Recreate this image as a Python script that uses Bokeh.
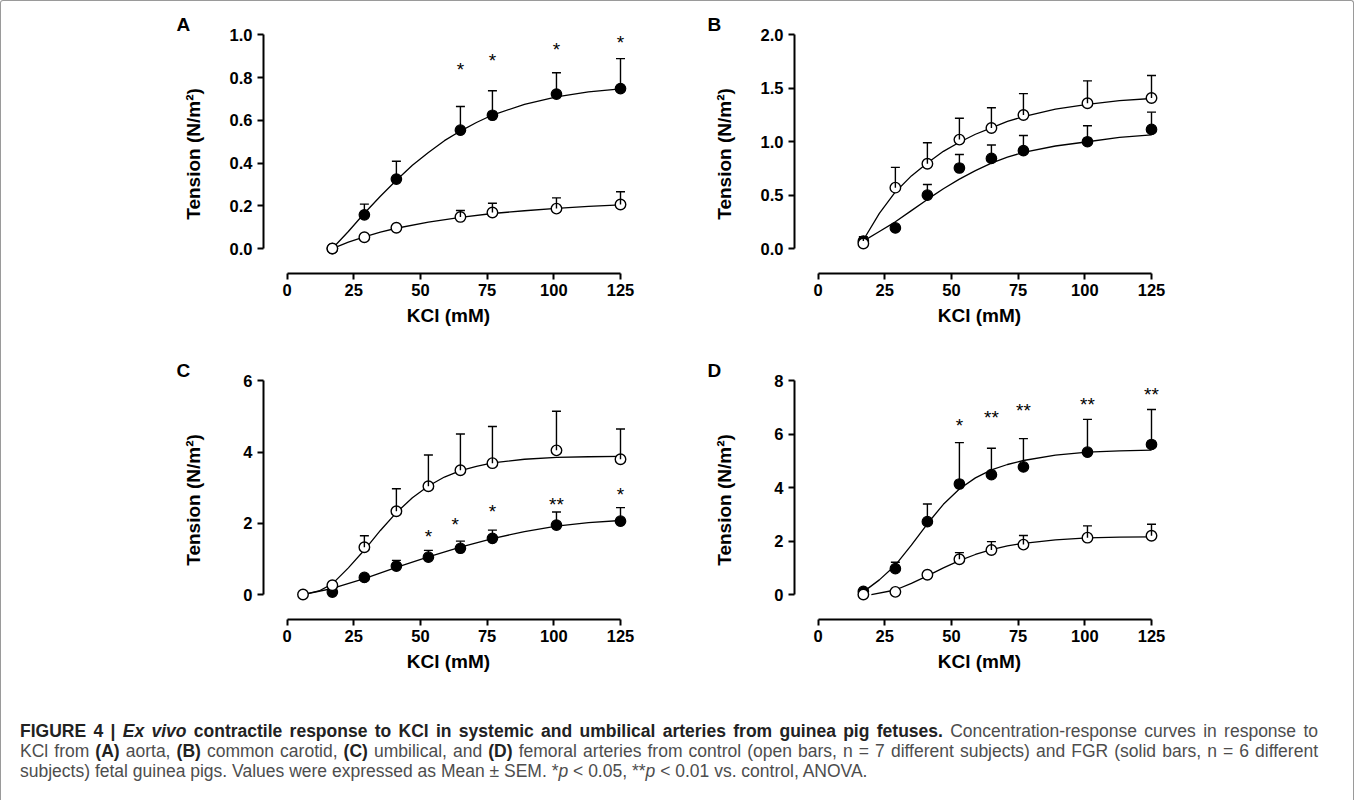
from bokeh.plotting import figure
from bokeh.models import (Range1d, FixedTicker, NumeralTickFormatter, Whisker, TeeHead,
                          ColumnDataSource, Div, Spacer, Title)
from bokeh.layouts import row, column
from bokeh.embed import file_html
from bokeh.resources import INLINE
from bokeh.core.properties import value

FONT = "Liberation Sans"

# ---------------- data ----------------
x_ticks = [0, 25, 50, 75, 100, 125]

# Panel A: aorta
a_ctrl_x = [17, 29, 41, 65, 77, 101, 125]
a_ctrl_mean = [0.0, 0.053, 0.097, 0.148, 0.169, 0.187, 0.206]
a_ctrl_sem = [0.0, 0.0, 0.0, 0.03, 0.043, 0.05, 0.06]
a_fgr_x = [17, 29, 41, 65, 77, 101, 125]
a_fgr_mean = [0.0, 0.158, 0.325, 0.554, 0.624, 0.723, 0.749]
a_fgr_sem = [0.0, 0.05, 0.084, 0.111, 0.115, 0.10, 0.14]
a_ctrl_fit_x = [17, 23, 29, 35, 41, 53, 65, 77, 89, 101, 113, 125]
a_ctrl_fit_y = [0.0, 0.03, 0.055, 0.077, 0.095, 0.124, 0.146, 0.164, 0.177, 0.188, 0.197, 0.204]
a_fgr_fit_x = [17, 23, 29, 35, 41, 47, 53, 59, 65, 71, 77, 89, 101, 113, 125]
a_fgr_fit_y = [0.0, 0.08, 0.165, 0.245, 0.32, 0.39, 0.45, 0.505, 0.55, 0.59, 0.625, 0.675, 0.71, 0.733, 0.747]
a_star_x = [65, 77, 101, 125]
a_star_y = [0.84, 0.88, 0.93, 0.965]
a_star_txt = ["*", "*", "*", "*"]
a_yticks = [0, 0.2, 0.4, 0.6, 0.8, 1.0]

# Panel B: common carotid
b_ctrl_x = [17, 29, 41, 53, 65, 77, 101, 125]
b_ctrl_mean = [0.047, 0.57, 0.794, 1.02, 1.128, 1.25, 1.36, 1.41]
b_ctrl_sem = [0.0, 0.19, 0.196, 0.20, 0.19, 0.20, 0.21, 0.21]
b_fgr_x = [17, 29, 41, 53, 65, 77, 101, 125]
b_fgr_mean = [0.07, 0.193, 0.5, 0.754, 0.844, 0.916, 1.0, 1.115]
b_fgr_sem = [0.04, 0.0, 0.1, 0.126, 0.126, 0.143, 0.15, 0.162]
b_ctrl_fit_x = [17, 23, 29, 35, 41, 47, 53, 59, 65, 71, 77, 89, 101, 113, 125]
b_ctrl_fit_y = [0.08, 0.33, 0.53, 0.68, 0.80, 0.91, 0.995, 1.07, 1.13, 1.19, 1.235, 1.305, 1.35, 1.385, 1.405]
b_fgr_fit_x = [17, 23, 29, 35, 41, 47, 53, 59, 65, 71, 77, 89, 101, 113, 125]
b_fgr_fit_y = [0.07, 0.16, 0.25, 0.355, 0.46, 0.56, 0.65, 0.73, 0.80, 0.855, 0.90, 0.96, 1.00, 1.04, 1.065]
b_star_x = []
b_star_y = []
b_star_txt = []
b_yticks = [0, 0.5, 1.0, 1.5, 2.0]

# Panel C: umbilical
c_ctrl_x = [6, 17, 29, 41, 53, 65, 77, 101, 125]
c_ctrl_mean = [0.0, 0.26, 1.33, 2.34, 3.04, 3.49, 3.69, 4.05, 3.80]
c_ctrl_sem = [0.0, 0.0, 0.32, 0.63, 0.88, 1.02, 1.03, 1.10, 0.85]
c_fgr_x = [17, 29, 41, 53, 65, 77, 101, 125]
c_fgr_mean = [0.07, 0.48, 0.80, 1.05, 1.30, 1.58, 1.95, 2.06]
c_fgr_sem = [0.0, 0.0, 0.16, 0.19, 0.20, 0.23, 0.37, 0.38]
c_ctrl_fit_x = [6, 12, 17, 23, 29, 35, 41, 47, 53, 59, 65, 71, 77, 89, 101, 113, 125]
c_ctrl_fit_y = [0.0, 0.1, 0.3, 0.75, 1.25, 1.8, 2.3, 2.72, 3.05, 3.3, 3.48, 3.6, 3.7, 3.8, 3.85, 3.87, 3.88]
c_fgr_fit_x = [6, 17, 29, 41, 53, 65, 77, 89, 101, 113, 125]
c_fgr_fit_y = [0.0, 0.17, 0.45, 0.76, 1.06, 1.33, 1.57, 1.77, 1.92, 2.02, 2.08]
c_star_x = [53, 63, 77, 101, 125]
c_star_y = [1.63, 1.96, 2.33, 2.52, 2.8]
c_star_txt = ["*", "*", "*", "**", "*"]
c_yticks = [0, 2, 4, 6]

# Panel D: femoral
d_ctrl_x = [17, 29, 41, 53, 65, 77, 101, 125]
d_ctrl_mean = [0.0, 0.10, 0.74, 1.32, 1.67, 1.87, 2.13, 2.20]
d_ctrl_sem = [0.0, 0.0, 0.0, 0.25, 0.31, 0.34, 0.44, 0.43]
d_fgr_x = [17, 29, 41, 53, 65, 77, 101, 125]
d_fgr_mean = [0.12, 0.97, 2.73, 4.14, 4.49, 4.78, 5.33, 5.62]
d_fgr_sem = [0.0, 0.24, 0.66, 1.55, 0.99, 1.06, 1.23, 1.31]
d_ctrl_fit_x = [20, 29, 35, 41, 47, 53, 59, 65, 71, 77, 89, 101, 113, 125]
d_ctrl_fit_y = [0.0, 0.17, 0.42, 0.7, 1.0, 1.27, 1.5, 1.68, 1.82, 1.92, 2.05, 2.12, 2.15, 2.16]
d_fgr_fit_x = [17, 23, 29, 35, 41, 47, 53, 59, 65, 71, 77, 89, 101, 113, 125]
d_fgr_fit_y = [0.1, 0.55, 1.1, 1.85, 2.65, 3.38, 3.95, 4.37, 4.67, 4.87, 5.02, 5.22, 5.33, 5.38, 5.41]
d_star_x = [53, 65, 77, 101, 125]
d_star_y = [6.33, 6.63, 6.88, 7.13, 7.48]
d_star_txt = ["*", "**", "**", "**", "**"]
d_yticks = [0, 2, 4, 6, 8]

# ---------------- geometry ----------------
FIG_W, FIG_H = 531, 346
B_L, B_R, B_T, B_B = 141, 20, 33, 74
FRAME_W = FIG_W - B_L - B_R
FRAME_H = FIG_H - B_T - B_B
PX_PER_X = 2.668
X0_PX = 23.5               # gap between y axis and x=0
Y0_PX = 25.0               # gap between x axis and y=0
AXIS_PX = FRAME_H - Y0_PX  # y axis length (0 -> ymax)


def panel(letter, ymax, yticks, fmt, ylab_standoff,
          cx, cm, cs, fx, fm, fs, cfx, cfy, ffx, ffy, sx, sy, st):
    x0 = -X0_PX / PX_PER_X
    x1 = x0 + FRAME_W / PX_PER_X
    y0 = -Y0_PX / AXIS_PX * ymax
    y1 = y0 + FRAME_H / AXIS_PX * ymax + 0.002 * ymax
    title = Title(text=letter, align="left", offset=-87, standoff=0, text_line_height=0.8,
                  text_font=FONT, text_font_style="bold", text_font_size="19px", text_color="black")
    p = figure(width=FIG_W, height=FIG_H, x_range=Range1d(x0, x1), y_range=Range1d(y0, y1),
               output_backend="svg", toolbar_location=None, title=title,
               min_border_left=B_L, min_border_right=B_R, min_border_top=B_T, min_border_bottom=B_B)
    p.outline_line_color = None
    p.grid.visible = False
    p.background_fill_color = "white"
    p.border_fill_color = "white"

    for ax, ticks, bnds in ((p.xaxis[0], x_ticks, (0, 125)), (p.yaxis[0], yticks, (0, ymax))):
        ax.ticker = FixedTicker(ticks=ticks)
        ax.bounds = bnds
        ax.axis_line_width = 2
        ax.axis_line_color = "black"
        ax.major_tick_line_width = 2
        ax.major_tick_line_color = "black"
        ax.major_tick_out = 6
        ax.major_tick_in = 0
        ax.minor_tick_line_color = None
        ax.major_label_text_font = FONT
        ax.major_label_text_font_style = "bold"
        ax.major_label_text_font_size = "16.5px"
        ax.major_label_text_color = "black"
        ax.axis_label_text_font = FONT
        ax.axis_label_text_font_style = "bold"
        ax.axis_label_text_font_size = "19px"
        ax.axis_label_text_color = "black"
    p.xaxis[0].major_label_standoff = 4
    p.yaxis[0].major_label_standoff = 5
    p.yaxis[0].formatter = NumeralTickFormatter(format=fmt)
    p.xaxis[0].formatter = NumeralTickFormatter(format="0")
    p.xaxis[0].axis_label = "KCl (mM)"
    p.xaxis[0].axis_label_standoff = 6
    p.yaxis[0].axis_label = "Tension (N/m²)"
    p.yaxis[0].axis_label_standoff = ylab_standoff

    # fitted curves
    p.line(cfx, cfy, line_color="black", line_width=1.3)
    p.line(ffx, ffy, line_color="black", line_width=1.3)

    # error bars (upper SEM only)
    for xs, ms, ss in ((fx, fm, fs), (cx, cm, cs)):
        bx = [x for x, s in zip(xs, ss) if s > 0]
        by = [m for m, s in zip(ms, ss) if s > 0]
        bu = [m + s for m, s in zip(ms, ss) if s > 0]
        if bx:
            src = ColumnDataSource(dict(x=bx, lower=by, upper=bu))
            p.add_layout(Whisker(source=src, base="x", lower="lower", upper="upper",
                                 dimension="height", line_color="black", line_width=1.4,
                                 upper_head=TeeHead(size=9, line_width=1.4, line_color="black"),
                                 lower_head=None, level="glyph"))

    # FGR (solid) then control (open)
    p.scatter(fx, fm, marker="circle", size=10.5, fill_color="black", line_color="black", line_width=1.2)
    p.scatter(cx, cm, marker="circle", size=10.5, fill_color="white", line_color="black", line_width=1.4)

    if sx:
        p.text(sx, sy, text=st, text_font=value(FONT), text_font_size="19px",
               text_align="center", text_baseline="alphabetic", y_offset=0, text_color="black")
    return p


pA = panel("A", 1.0, a_yticks, "0.0", 23, a_ctrl_x, a_ctrl_mean, a_ctrl_sem, a_fgr_x, a_fgr_mean, a_fgr_sem,
           a_ctrl_fit_x, a_ctrl_fit_y, a_fgr_fit_x, a_fgr_fit_y, a_star_x, a_star_y, a_star_txt)
pB = panel("B", 2.0, b_yticks, "0.0", 23, b_ctrl_x, b_ctrl_mean, b_ctrl_sem, b_fgr_x, b_fgr_mean, b_fgr_sem,
           b_ctrl_fit_x, b_ctrl_fit_y, b_fgr_fit_x, b_fgr_fit_y, b_star_x, b_star_y, b_star_txt)
pC = panel("C", 6.0, c_yticks, "0", 36, c_ctrl_x, c_ctrl_mean, c_ctrl_sem, c_fgr_x, c_fgr_mean, c_fgr_sem,
           c_ctrl_fit_x, c_ctrl_fit_y, c_fgr_fit_x, c_fgr_fit_y, c_star_x, c_star_y, c_star_txt)
pD = panel("D", 8.0, d_yticks, "0", 36, d_ctrl_x, d_ctrl_mean, d_ctrl_sem, d_fgr_x, d_fgr_mean, d_fgr_sem,
           d_ctrl_fit_x, d_ctrl_fit_y, d_fgr_fit_x, d_fgr_fit_y, d_star_x, d_star_y, d_star_txt)

B = "<b style='color:#222'>"
JL = ("<div style='text-align:justify;text-align-last:justify;width:1298px;"
      "white-space:normal;'>")
caption_html = (
    "<div style=\"font-family:'Liberation Sans',Arial,sans-serif;font-size:17.5px;line-height:20px;"
    "color:#4d4d4d;padding-left:14px;padding-top:23px;\">"
    + JL + B + "FIGURE 4 | <i>Ex vivo</i> contractile response to KCl in systemic and umbilical "
    "arteries from guinea pig fetuses.</b> Concentration-response curves in response to</div>"
    + JL + "KCl from " + B + "(A)</b> aorta, " + B + "(B)</b> common carotid, "
    + B + "(C)</b> umbilical, and " + B + "(D)</b> femoral arteries from control "
    "(open bars, n = 7 different subjects) and FGR (solid bars, n = 6 different</div>"
    "<div style='white-space:nowrap;'>subjects) fetal guinea pigs. Values were expressed as Mean &plusmn; SEM. "
    "*<i>p</i> &lt; 0.05, **<i>p</i> &lt; 0.01 vs. control, ANOVA.</div></div>"
)
caption = Div(text=caption_html, width=1342, height=97)

layout = column(
    row(Spacer(width=121, height=FIG_H), pA, pB),
    row(Spacer(width=121, height=FIG_H), pC, pD),
    caption,
    styles={"border": "1px solid #9a9a9a", "border-bottom": "none", "border-radius": "3px 3px 0 0"},
)

open("out.html", "w").write(file_html(layout, INLINE))
